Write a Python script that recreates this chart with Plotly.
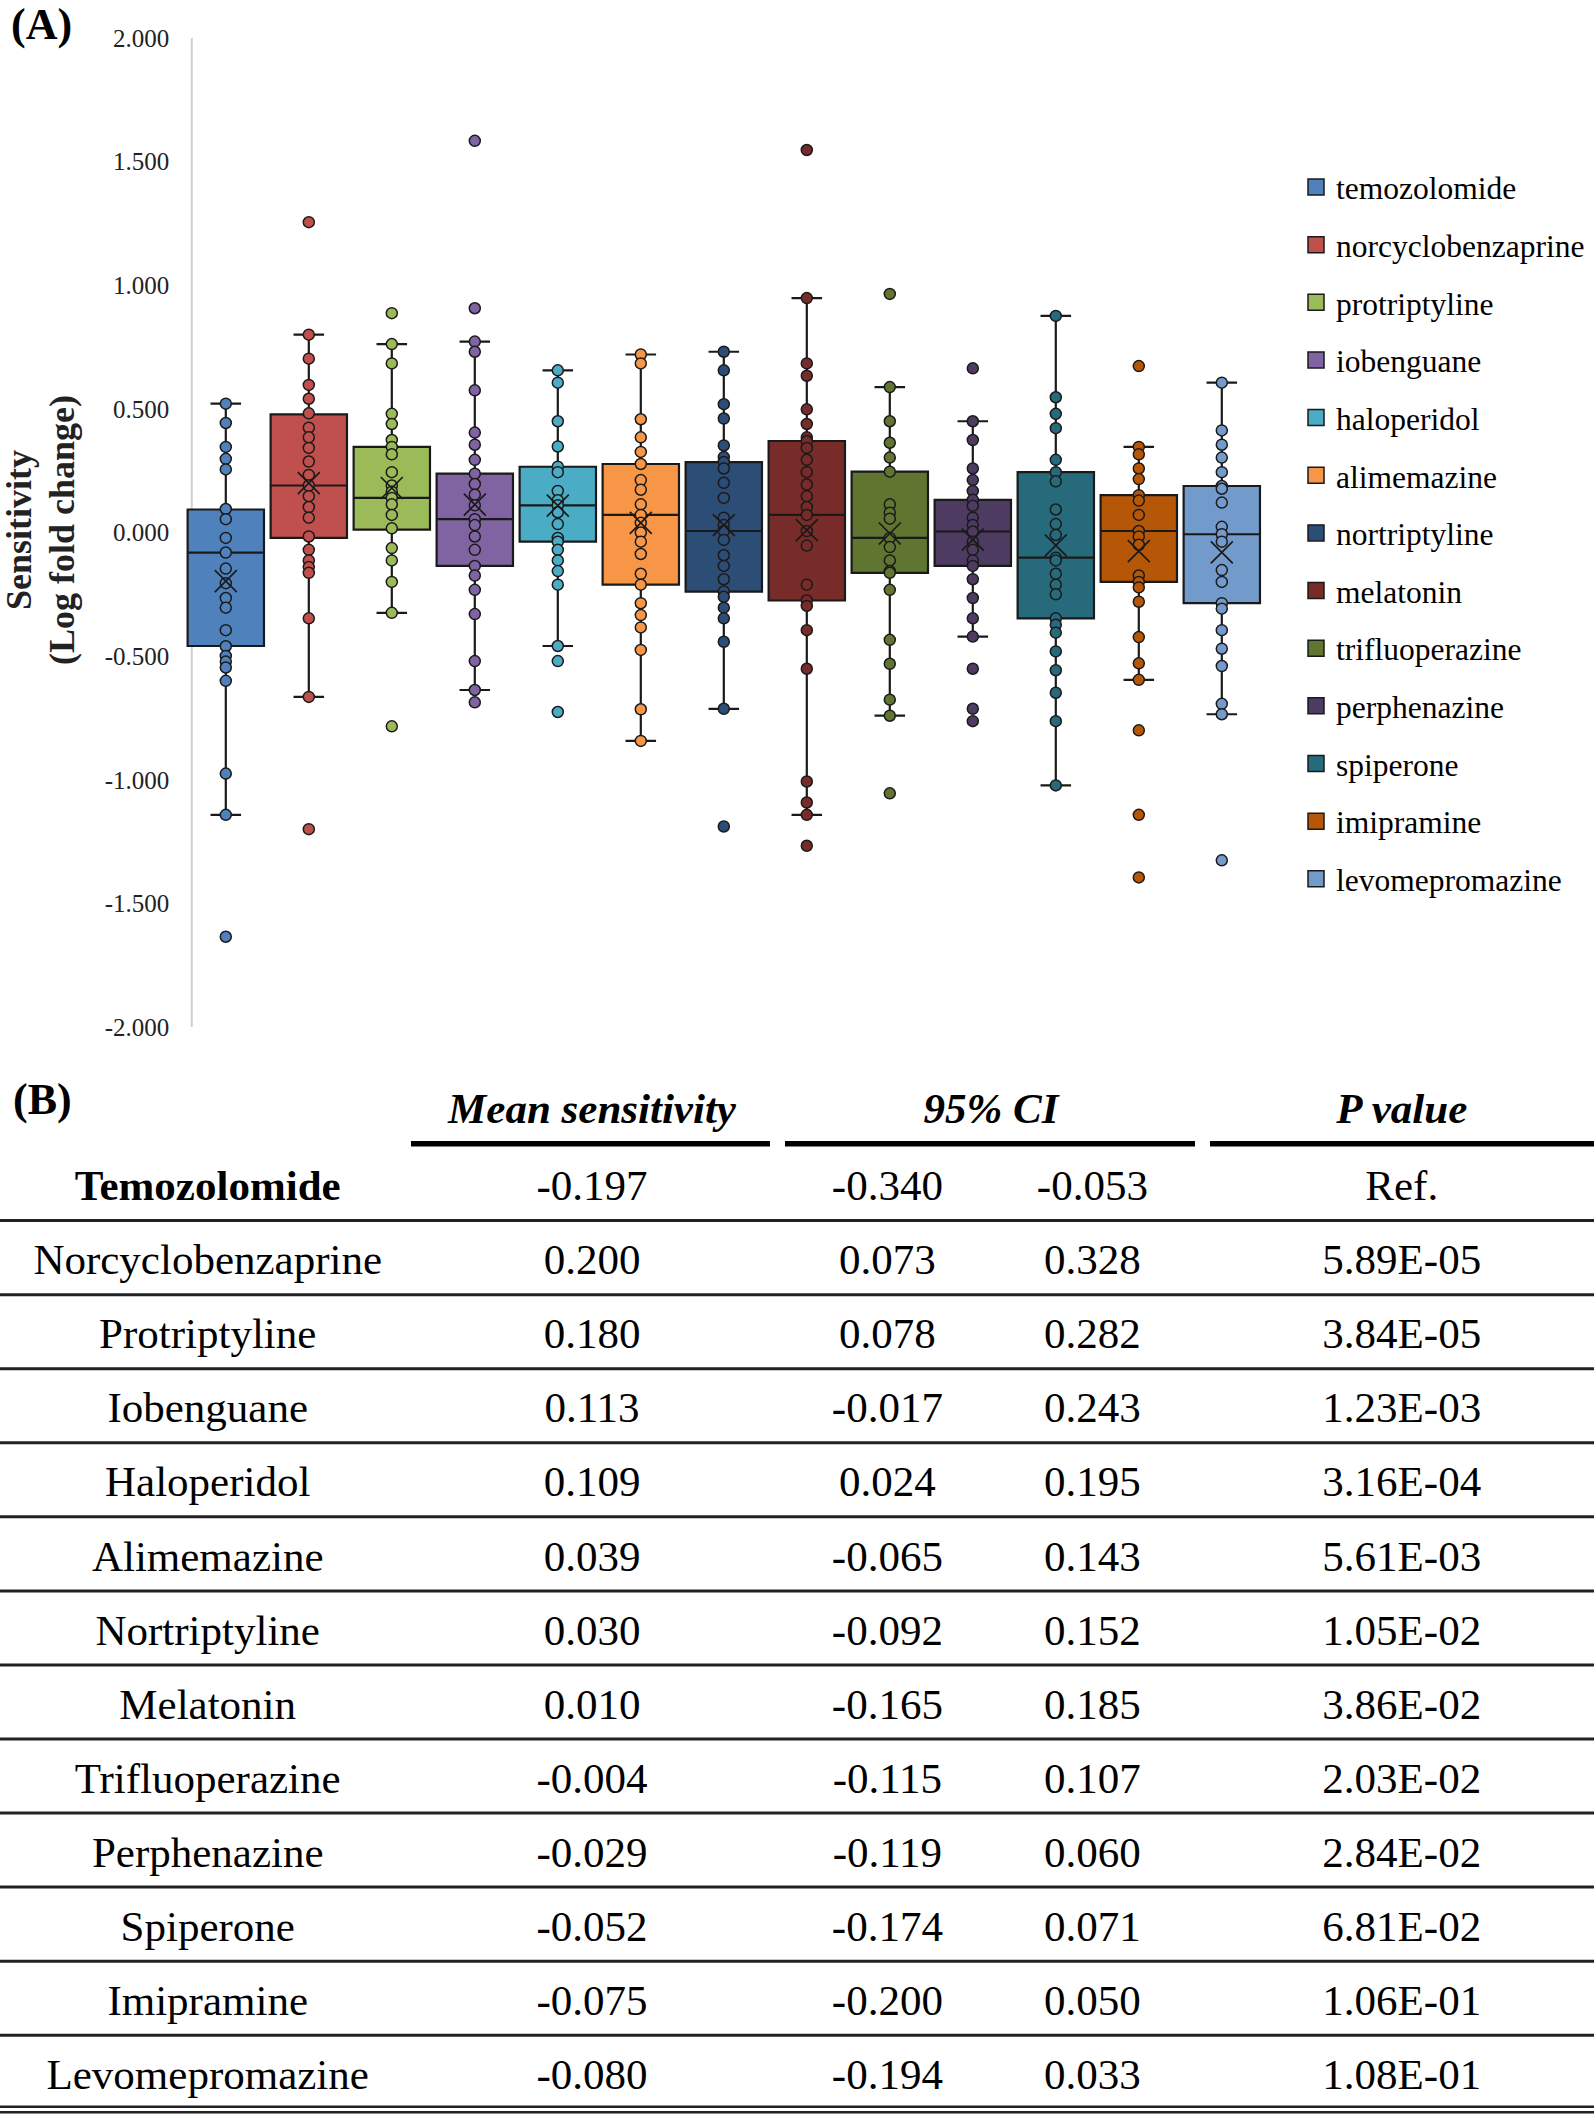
import plotly.graph_objects as go

W, H = 1594, 2116

# ---------------- data ----------------
drugs = ["temozolomide", "norcyclobenzaprine", "protriptyline", "iobenguane",
         "haloperidol", "alimemazine", "nortriptyline", "melatonin",
         "trifluoperazine", "perphenazine", "spiperone", "imipramine",
         "levomepromazine"]

colors = ["#4F81BD", "#C0504D", "#9BBB59", "#8064A2", "#4BACC6", "#F79646",
          "#2C4D75", "#772C2A", "#5F7530", "#4D3B62", "#276A7C", "#B65708",
          "#729ACA"]

# box statistics
q1 = [-0.459, -0.022, 0.012, -0.135, -0.037, -0.211, -0.239, -0.275, -0.163, -0.135, -0.347, -0.200, -0.286]
median = [-0.081, 0.190, 0.140, 0.054, 0.110, 0.071, 0.006, 0.071, -0.022, 0.004, -0.102, 0.006, -0.007]
q3 = [0.093, 0.478, 0.346, 0.238, 0.266, 0.277, 0.285, 0.370, 0.246, 0.132, 0.244, 0.151, 0.188]
upper_whisker = [0.521, 0.800, 0.762, 0.772, 0.656, 0.720, 0.731, 0.948, 0.588, 0.450, 0.876, 0.346, 0.606]
lower_whisker = [-1.142, -0.665, -0.325, -0.637, -0.459, -0.843, -0.713, -1.142, -0.741, -0.421, -1.023, -0.596, -0.735]

# individual points per drug
pts_temozolomide = [0.521, 0.443, 0.346, 0.298, 0.255, 0.095, 0.054, -0.022, -0.081, -0.146, -0.205,
                    -0.265, -0.304, -0.395, -0.460, -0.499, -0.522, -0.546, -0.600, -0.975, -1.142, -1.635]
pts_norcyclobenzaprine = [1.255, 0.800, 0.703, 0.597, 0.541, 0.482, 0.424, 0.385, 0.342, 0.287, 0.233,
                          0.190, 0.147, 0.103, 0.060, -0.016, -0.070, -0.113, -0.140, -0.163, -0.347, -0.665, -1.200]
pts_protriptyline = [0.887, 0.762, 0.684, 0.480, 0.439, 0.374, 0.346, 0.316, 0.244, 0.190, 0.165, 0.140,
                     0.114, 0.071, 0.017, -0.063, -0.113, -0.200, -0.325, -0.784]
pts_iobenguane = [1.584, 0.907, 0.772, 0.731, 0.575, 0.404, 0.355, 0.294, 0.238, 0.196, 0.153, 0.110,
                  0.054, 0.030, -0.016, -0.070, -0.135, -0.174, -0.232, -0.330, -0.520, -0.637, -0.687]
pts_haloperidol = [0.656, 0.606, 0.450, 0.348, 0.266, 0.244, 0.168, 0.130, 0.110, 0.082, 0.034, -0.022,
                   -0.037, -0.070, -0.113, -0.156, -0.211, -0.459, -0.520, -0.726]
pts_alimemazine = [0.720, 0.684, 0.458, 0.385, 0.326, 0.277, 0.212, 0.173, 0.114, 0.071, 0.039, 0.000,
                   -0.037, -0.087, -0.167, -0.211, -0.286, -0.334, -0.384, -0.475, -0.715, -0.843]
pts_nortriptyline = [0.731, 0.656, 0.519, 0.461, 0.352, 0.305, 0.285, 0.259, 0.201, 0.140, 0.060, 0.030,
                     0.006, -0.030, -0.092, -0.135, -0.189, -0.239, -0.260, -0.304, -0.347, -0.442, -0.713, -1.189]
pts_melatonin = [1.547, 0.948, 0.684, 0.634, 0.498, 0.439, 0.385, 0.370, 0.342, 0.294, 0.244, 0.194, 0.147,
                 0.103, 0.071, 0.006, -0.053, -0.211, -0.275, -0.297, -0.395, -0.551, -1.007, -1.092, -1.142, -1.267]
pts_trifluoperazine = [0.965, 0.588, 0.450, 0.363, 0.303, 0.246, 0.114, 0.080, 0.056, -0.022, -0.059,
                       -0.113, -0.156, -0.163, -0.232, -0.434, -0.531, -0.676, -0.741, -1.055]
pts_perphenazine = [0.664, 0.450, 0.374, 0.259, 0.212, 0.168, 0.132, 0.108, 0.060, 0.030, 0.004, -0.037,
                    -0.070, -0.113, -0.135, -0.189, -0.265, -0.347, -0.421, -0.551, -0.713, -0.763]
pts_spiperone = [0.876, 0.547, 0.480, 0.422, 0.294, 0.244, 0.207, 0.093, 0.034, -0.010, -0.102, -0.113,
                 -0.167, -0.211, -0.250, -0.347, -0.373, -0.405, -0.481, -0.557, -0.648, -0.763, -1.023]
pts_imipramine = [0.673, 0.346, 0.316, 0.259, 0.216, 0.151, 0.129, 0.071, 0.006, -0.016, -0.050, -0.174,
                  -0.200, -0.222, -0.280, -0.423, -0.529, -0.596, -0.800, -1.142, -1.395]
pts_levomepromazine = [0.606, 0.413, 0.355, 0.303, 0.244, 0.188, 0.177, 0.121, 0.023, -0.007, -0.037,
                       -0.152, -0.200, -0.286, -0.308, -0.395, -0.470, -0.540, -0.693, -0.735, -1.326]

points = [pts_temozolomide, pts_norcyclobenzaprine, pts_protriptyline, pts_iobenguane, pts_haloperidol,
          pts_alimemazine, pts_nortriptyline, pts_melatonin, pts_trifluoperazine, pts_perphenazine,
          pts_spiperone, pts_imipramine, pts_levomepromazine]

# table (B)
mean_sens = [-0.197, 0.200, 0.180, 0.113, 0.109, 0.039, 0.030, 0.010, -0.004, -0.029, -0.052, -0.075, -0.080]
ci_low = [-0.340, 0.073, 0.078, -0.017, 0.024, -0.065, -0.092, -0.165, -0.115, -0.119, -0.174, -0.200, -0.194]
ci_high = [-0.053, 0.328, 0.282, 0.243, 0.195, 0.143, 0.152, 0.185, 0.107, 0.060, 0.071, 0.050, 0.033]
p_values = ["Ref.", "5.89E-05", "3.84E-05", "1.23E-03", "3.16E-04", "5.61E-03", "1.05E-02",
            "3.86E-02", "2.03E-02", "2.84E-02", "6.81E-02", "1.06E-01", "1.08E-01"]
header_labels = ["Mean sensitivity", "95% CI", "P value"]

y_ticks = [-2.0, -1.5, -1.0, -0.5, 0.0, 0.5, 1.0, 1.5, 2.0]

# ---------------- style / layout constants ----------------
SERIF = "Liberation Serif"
INK = "#1a1a1a"
fig = go.Figure()

for i, name in enumerate(drugs):
    fig.add_trace(go.Box(
        x=[name], q1=[q1[i]], median=[median[i]], q3=[q3[i]],
        lowerfence=[lower_whisker[i]], upperfence=[upper_whisker[i]],
        fillcolor=colors[i], line=dict(color=INK, width=2.2),
        width=0.92, whiskerwidth=0.4, boxpoints=False,
        showlegend=False, hoverinfo="skip", xaxis="x", yaxis="y"))

for i, name in enumerate(drugs):
    fig.add_trace(go.Scatter(
        x=[name] * len(points[i]), y=points[i], mode="markers",
        marker=dict(size=11, color=colors[i], line=dict(color=INK, width=1.5)),
        showlegend=False, hoverinfo="skip", xaxis="x", yaxis="y"))

fig.add_trace(go.Scatter(
    x=drugs, y=mean_sens, mode="markers",
    marker=dict(symbol="x-thin", size=22, color=INK, line=dict(color=INK, width=1.7)),
    showlegend=False, hoverinfo="skip", xaxis="x", yaxis="y"))

# legend entries
for i, name in enumerate(drugs):
    fig.add_trace(go.Scatter(
        x=[None], y=[None], mode="markers", name=name, legendgroup=name,
        marker=dict(symbol="square", size=16, color=colors[i], line=dict(color=INK, width=1.5)),
        xaxis="x", yaxis="y"))

# y-axis line (at the left edge of first box)
fig.add_shape(type="line", xref="x", yref="y domain", x0=-0.41, x1=-0.41, y0=0, y1=1,
              line=dict(color="#d0d0d0", width=2), layer="below")

# ---------------- table (B) ----------------
col_name, col_mean, col_lo, col_hi, col_p, col_ci_head = 0.1303, 0.3714, 0.5567, 0.6853, 0.8794, 0.6217
TEXT_DY = 0.055  # vertical optical centring of the table text
rows = list(range(len(drugs)))
row_names = [("<b>%s</b>" % d.capitalize()) if i == 0 else d.capitalize() for i, d in enumerate(drugs)]
tfont = dict(family=SERIF, size=43, color="black")

def fmt(v):
    return f"{v:.3f}"

for xpos, texts in [(col_name, row_names),
                    (col_mean, [fmt(v) for v in mean_sens]),
                    (col_lo, [fmt(v) for v in ci_low]),
                    (col_hi, [fmt(v) for v in ci_high]),
                    (col_p, p_values)]:
    fig.add_trace(go.Scatter(
        x=[xpos] * len(rows), y=[r + TEXT_DY for r in rows], text=texts, mode="text",
        textposition="middle center", textfont=tfont, cliponaxis=False,
        showlegend=False, hoverinfo="skip", xaxis="x2", yaxis="y2"))

HEADER_ROW = -1.038 + TEXT_DY
fig.add_trace(go.Scatter(
    x=[col_mean, col_ci_head, col_p], y=[HEADER_ROW] * 3,
    text=["<b><i>%s</i></b>" % h for h in header_labels], mode="text",
    textposition="middle center", textfont=tfont, cliponaxis=False,
    showlegend=False, hoverinfo="skip", xaxis="x2", yaxis="y2"))

# header underline segments
for xa, xb in [(411 / W, 770 / W), (785 / W, 1195 / W), (1210 / W, 1.0)]:
    fig.add_shape(type="line", xref="paper", yref="y2", x0=xa, x1=xb, y0=-0.564, y1=-0.564,
                  line=dict(color="black", width=5.5))
# row separators
for k in rows[:-1]:
    fig.add_shape(type="line", xref="paper", yref="y2", x0=0, x1=1, y0=k + 0.475, y1=k + 0.475,
                  line=dict(color="#222222", width=3))
for yy in (12.44, 12.515):
    fig.add_shape(type="line", xref="paper", yref="y2", x0=0, x1=1, y0=yy, y1=yy,
                  line=dict(color="#222222", width=2.5))

# ---------------- annotations ----------------
fig.add_annotation(text="<b>(A)</b>", xref="paper", yref="paper", x=9 / W, y=1 - 25 / H,
                   xanchor="left", yanchor="middle", showarrow=False,
                   font=dict(family=SERIF, size=44, color="black"))
fig.add_annotation(text="<b>(B)</b>", xref="paper", yref="paper", x=11 / W, y=1 - 1099 / H,
                   xanchor="left", yanchor="middle", showarrow=False,
                   font=dict(family=SERIF, size=44, color="black"))
fig.add_annotation(text="<b>Sensitivity</b>", xref="paper", yref="paper", x=19 / W, y=1 - 530 / H,
                   xanchor="center", yanchor="middle", textangle=-90, showarrow=False,
                   font=dict(family=SERIF, size=36, color="#222222"))
fig.add_annotation(text="<b>(Log fold change)</b>", xref="paper", yref="paper", x=62 / W, y=1 - 530 / H,
                   xanchor="center", yanchor="middle", textangle=-90, showarrow=False,
                   font=dict(family=SERIF, size=36, color="#222222"))

# ---------------- layout ----------------
fig.update_layout(
    width=W, height=H,
    margin=dict(l=0, r=0, t=0, b=0, autoexpand=False),
    paper_bgcolor="white", plot_bgcolor="white",
    boxmode="overlay",
    xaxis=dict(domain=[184.3 / W, 1263.3 / W], type="category", categoryorder="array",
               categoryarray=drugs, range=[-0.5, 12.5], showticklabels=False,
               showgrid=False, zeroline=False, showline=False, ticks="", anchor="y"),
    yaxis=dict(domain=[1 - 1027 / H, 1 - 38 / H], range=[-2, 2], tickvals=y_ticks,
               ticktext=[fmt(v) for v in y_ticks], showgrid=False, zeroline=False,
               showline=False, ticks="outside", ticklen=9, tickcolor="rgba(0,0,0,0)",
               tickfont=dict(family=SERIF, size=25, color="#222222"), anchor="x"),
    xaxis2=dict(domain=[0, 1], range=[0, 1], visible=False, anchor="y2"),
    yaxis2=dict(domain=[0, 1 - 1060 / H], range=[12.5655, -1.6932], visible=False, anchor="x2"),
    legend=dict(x=1296 / W, y=1 - 160 / H, xanchor="left", yanchor="top",
                font=dict(family=SERIF, size=31.5, color="black"), bgcolor="rgba(0,0,0,0)",
                tracegroupgap=13.7, itemsizing="trace", itemwidth=30),
    showlegend=True,
)

fig.write_html("out.html", config={"displayModeBar": False},
               post_script="document.body.style.margin='0px';")
